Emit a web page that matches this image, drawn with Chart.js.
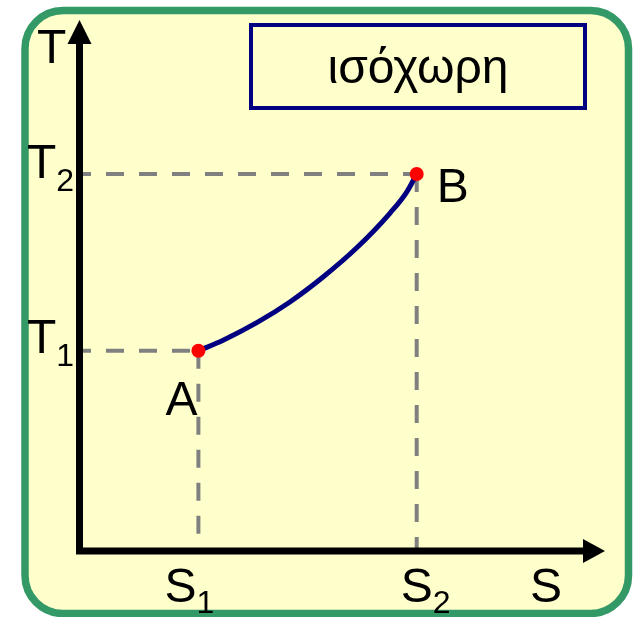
<!DOCTYPE html>
<html>
<head>
<meta charset="utf-8">
<script src="https://cdn.jsdelivr.net/npm/chart.js@4"></script>
<style>
    body { margin: 0; background: #ffffff; }
    canvas { display: block; }
</style>
</head>
<body>
<canvas id="myChart" width="637" height="617"></canvas>
<script>
// states A and B of the isochoric process
let stateNames = ['A', 'B'];
let stateS = [2.27, 6.42];      // S1, S2
let stateT = [3.77, 7.10];      // T1, T2
let tickSubs = ['1', '2'];

// curve A -> B
let curveS = [2.27, 2.74, 3.38, 4.01, 4.64, 5.28, 5.91, 6.23, 6.42];
let curveT = [3.77, 3.97, 4.30, 4.69, 5.16, 5.71, 6.36, 6.76, 7.10];

let axisNames = ['S', 'T'];
let processName = 'ισόχωρη';

let font = '"Liberation Sans", Arial, sans-serif';
let green = '#339966';
let paper = '#ffffcc';
let navy = '#000080';
let dashGray = '#808080';

let curvePoints = curveS.map((s, i) => ({ x: s, y: curveT[i] }));
let statePoints = stateS.map((s, i) => ({ x: s, y: stateT[i] }));

let dashed = (pts, offset) => ({
    data: pts,
    borderColor: dashGray,
    borderWidth: 4,
    borderDash: [18, 15],
    borderDashOffset: offset,
    pointRadius: 0,
    showLine: true,
    clip: false
});

roundRect = (ctx, x, y, w, h, r) => {
    ctx.beginPath();
    ctx.moveTo(x + r, y);
    ctx.lineTo(x + w - r, y);
    ctx.arcTo(x + w, y, x + w, y + r, r);
    ctx.lineTo(x + w, y + h - r);
    ctx.arcTo(x + w, y + h, x + w - r, y + h, r);
    ctx.lineTo(x + r, y + h);
    ctx.arcTo(x, y + h, x, y + h - r, r);
    ctx.lineTo(x, y + r);
    ctx.arcTo(x, y, x + r, y, r);
    ctx.closePath();
}

subText = (ctx, base, sub, x, y, dy) => {
    ctx.font = '48px ' + font;
    ctx.textAlign = 'left';
    ctx.textBaseline = 'alphabetic';
    ctx.fillText(base, x, y);
    let w = ctx.measureText(base).width;
    if (sub) {
        ctx.font = '32px ' + font;
        ctx.fillText(sub, x + w, y + dy);
    }
}

let framePlugin = {
    id: 'frame',
    beforeDraw: (chart) => {
        let ctx = chart.ctx;
        ctx.save();
        ctx.fillStyle = '#ffffff';
        ctx.fillRect(0, 0, chart.width, chart.height);
        roundRect(ctx, 25, 10.5, 603.5, 603, 38);
        ctx.fillStyle = paper;
        ctx.fill();
        ctx.lineWidth = 7.5;
        ctx.strokeStyle = green;
        ctx.stroke();
        ctx.restore();
    },
    afterDatasetsDraw: (chart) => {
        let ctx = chart.ctx;
        let xs = chart.scales.x;
        let ys = chart.scales.y;
        let x0 = xs.getPixelForValue(0) + 0.5;
        let y0 = ys.getPixelForValue(0);
        let xEnd = xs.getPixelForValue(xs.max);
        let yEnd = ys.getPixelForValue(ys.max);
        ctx.save();
        ctx.strokeStyle = '#000000';
        ctx.fillStyle = '#000000';
        ctx.lineWidth = 7;
        ctx.beginPath();
        ctx.moveTo(x0, y0 + 3.5);
        ctx.lineTo(x0, yEnd + 22);
        ctx.moveTo(x0 - 3.5, y0);
        ctx.lineTo(xEnd - 22, y0);
        ctx.stroke();
        ctx.beginPath();
        ctx.moveTo(x0, yEnd);
        ctx.lineTo(x0 - 12, yEnd + 24);
        ctx.lineTo(x0 + 12, yEnd + 24);
        ctx.closePath();
        ctx.fill();
        ctx.beginPath();
        ctx.moveTo(xEnd, y0);
        ctx.lineTo(xEnd - 22, y0 - 12);
        ctx.lineTo(xEnd - 22, y0 + 12);
        ctx.closePath();
        ctx.fill();
        ctx.restore();
    },
    afterDraw: (chart) => {
        let ctx = chart.ctx;
        let xs = chart.scales.x;
        let ys = chart.scales.y;
        let x0 = xs.getPixelForValue(0);
        let y0 = ys.getPixelForValue(0);
        ctx.save();
        ctx.fillStyle = '#000000';

        // axis names
        subText(ctx, axisNames[1], '', x0 - 42, ys.getPixelForValue(ys.max) + 43, 0);
        subText(ctx, axisNames[0], '', xs.getPixelForValue(xs.max) - 75, y0 + 51, 0);

        // T1, T2 and S1, S2
        for (let i = 0; i < stateS.length; i++) {
            let px = xs.getPixelForValue(stateS[i]);
            let py = ys.getPixelForValue(stateT[i]);
            subText(ctx, axisNames[1], tickSubs[i], x0 - 52, py + 2 + i * 2, 13);
            subText(ctx, axisNames[0], tickSubs[i], px - (i == 0 ? 34 : 16), y0 + 51, 11);
        }

        // state labels
        let pa = { x: xs.getPixelForValue(stateS[0]), y: ys.getPixelForValue(stateT[0]) };
        let pb = { x: xs.getPixelForValue(stateS[1]), y: ys.getPixelForValue(stateT[1]) };
        subText(ctx, stateNames[0], '', pa.x - 33, pa.y + 64, 0);
        subText(ctx, stateNames[1], '', pb.x + 20, pb.y + 28, 0);

        // process name box
        ctx.fillStyle = paper;
        ctx.fillRect(251, 25, 334, 83);
        ctx.lineWidth = 4;
        ctx.strokeStyle = navy;
        ctx.strokeRect(251, 25, 334, 83);
        ctx.fillStyle = '#000000';
        ctx.font = '48px ' + font;
        ctx.textAlign = 'center';
        ctx.textBaseline = 'alphabetic';
        ctx.fillText(processName, 418, 83);
        ctx.restore();
    }
};

let ctx = document.getElementById('myChart').getContext('2d');
let myChart = new Chart(ctx, {
    type: 'scatter',
    data: {
        datasets: [
            {
                data: statePoints,
                backgroundColor: '#ff0000',
                borderWidth: 0,
                pointRadius: 7,
                showLine: false,
                clip: false
            },
            {
                data: curvePoints,
                borderColor: navy,
                borderWidth: 5,
                pointRadius: 0,
                showLine: true,
                cubicInterpolationMode: 'monotone'
            },
            dashed([{ x: 0, y: stateT[0] }, statePoints[0]], 6),
            dashed([statePoints[0], { x: stateS[0], y: 0 }], 0),
            dashed([{ x: 0, y: stateT[1] }, statePoints[1]], 6),
            dashed([statePoints[1], { x: stateS[1], y: 0 }], 0)
        ]
    },
    options: {
        responsive: false,
        animation: false,
        layout: {
            padding: { left: 79, right: 32, top: 20, bottom: 66 }
        },
        scales: {
            x: { type: 'linear', min: 0, max: 10, display: false },
            y: { type: 'linear', min: 0, max: 10, display: false }
        },
        plugins: {
            legend: { display: false },
            tooltip: { enabled: false }
        }
    },
    plugins: [framePlugin]
});
</script>
</body>
</html>
